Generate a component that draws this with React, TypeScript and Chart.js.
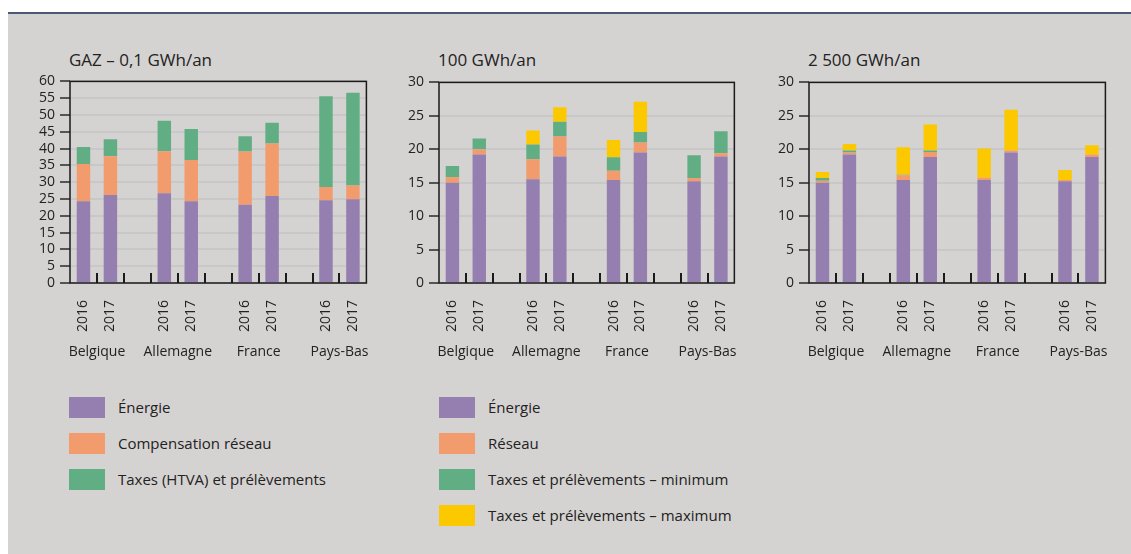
import React, { useEffect, useRef } from "react";
import { Chart, registerables } from "chart.js";
Chart.register(...registerables);

// ---------- DATA ----------
const slotLabels = ["2016", "2017", "", "2016", "2017", "", "2016", "2017", "", "2016", "2017"];
const countries = ["Belgique", "Allemagne", "France", "Pays-Bas"];
const countryPositions = [0.5, 3.5, 6.5, 9.5];

// Chart 1: GAZ – 0,1 GWh/an
const gazEnergie = [24.3, 26.2, null, 26.7, 24.3, null, 23.3, 25.9, null, 24.6, 24.9];
const gazCompensation = [11.1, 11.5, null, 12.5, 12.3, null, 15.8, 15.6, null, 4.0, 4.1];
const gazTaxes = [5.1, 5.1, null, 9.1, 9.2, null, 4.6, 6.2, null, 27.0, 27.6];

// Chart 2: 100 GWh/an
const g100Energie = [15.0, 19.2, null, 15.5, 18.9, null, 15.4, 19.5, null, 15.2, 18.9];
const g100Reseau = [0.8, 0.8, null, 3.0, 3.0, null, 1.4, 1.5, null, 0.5, 0.5];
const g100TaxMin = [1.7, 1.6, null, 2.2, 2.2, null, 2.0, 1.6, null, 3.4, 3.3];
const g100TaxMax = [0, 0, null, 2.1, 2.2, null, 2.6, 4.5, null, 0, 0];

// Chart 3: 2 500 GWh/an
const g2500Energie = [15.0, 19.2, null, 15.4, 18.85, null, 15.4, 19.5, null, 15.2, 18.85];
const g2500Reseau = [0.3, 0.3, null, 0.7, 0.75, null, 0.35, 0.3, null, 0.2, 0.35];
const g2500TaxMin = [0.4, 0.3, null, 0.1, 0.2, null, 0, 0, null, 0, 0];
const g2500TaxMax = [0.9, 1.0, null, 4.1, 3.9, null, 4.35, 6.1, null, 1.5, 1.4];

const titles = ["GAZ – 0,1 GWh/an", "100 GWh/an", "2 500 GWh/an"];
const yMaxes = [60, 30, 30];

const legend1 = ["Énergie", "Compensation réseau", "Taxes (HTVA) et prélèvements"];
const legend2 = ["Énergie", "Réseau", "Taxes et prélèvements – minimum", "Taxes et prélèvements – maximum"];

// ---------- STYLE ----------
const PURPLE = "#957fb0";
const ORANGE = "#f29c6e";
const GREEN = "#62ae84";
const YELLOW = "#fcc800";
const COLORS = [PURPLE, ORANGE, GREEN, YELLOW];
const BG = "#d5d3d1";
const TEXT = "#222222";
const FONT = "'Open Sans', 'Noto Sans', sans-serif";

const framePlugin = {
  id: "frame",
  afterDatasetsDraw(chart: any) {
    const { ctx, chartArea: a, scales } = chart;
    const x = scales.x;
    ctx.save();
    ctx.strokeStyle = "#1a1a1a";
    ctx.lineWidth = 1.5;
    ctx.strokeRect(a.left, a.top, a.right - a.left, a.bottom - a.top);
    ctx.lineWidth = 2;
    ctx.beginPath();
    for (let i = 1; i < slotLabels.length; i++) {
      const px = Math.round(x.getPixelForValue(i - 0.5));
      ctx.moveTo(px, a.bottom);
      ctx.lineTo(px, a.bottom - 10);
    }
    ctx.stroke();
    // country group labels, placed through the x scale
    ctx.fillStyle = TEXT;
    ctx.font = `14px ${FONT}`;
    ctx.textAlign = "center";
    ctx.textBaseline = "middle";
    countries.forEach((c, i) => {
      ctx.fillText(c, x.getPixelForValue(countryPositions[i]), a.bottom + 69);
    });
    ctx.restore();
  },
};

type PanelProps = {
  left: number;
  top: number;
  width: number;
  height: number;
  areaHeight: number;
  yMax: number;
  series: (number | null)[][];
  labels: string[];
};

function ChartPanel({ left, top, width, height, areaHeight, yMax, series, labels }: PanelProps) {
  const ref = useRef<HTMLCanvasElement | null>(null);
  useEffect(() => {
    if (!ref.current) return;
    const tickFont = { family: FONT, size: 14 };
    const padTop = 10;
    const xH = height - padTop - areaHeight;
    const chart = new Chart(ref.current, {
      type: "bar",
      data: {
        labels: slotLabels,
        datasets: series.map((d, i) => ({
          label: labels[i],
          data: d,
          backgroundColor: COLORS[i],
          borderWidth: 0,
          barPercentage: 0.5,
          categoryPercentage: 1,
        })),
      },
      options: {
        responsive: false,
        animation: false,
        devicePixelRatio: 1,
        layout: { padding: { top: padTop, right: 6, left: 0, bottom: 0 } },
        plugins: { legend: { display: false }, tooltip: { enabled: false }, title: { display: false } },
        scales: {
          x: {
            type: "category",
            position: "bottom",
            stacked: true,
            offset: true,
            grid: { display: false, drawTicks: false },
            border: { display: false },
            ticks: {
              autoSkip: false,
              minRotation: 90,
              maxRotation: 90,
              padding: 17,
              font: tickFont,
              color: TEXT,
            },
            afterFit: (s: any) => {
              s.height = xH;
            },
          },
          y: {
            type: "linear",
            stacked: true,
            min: 0,
            max: yMax,
            border: { display: false },
            grid: { color: "#c8c8c8", lineWidth: 2, tickColor: "#2a2a2a", tickLength: 10, tickWidth: 1.5 },
            ticks: { stepSize: 5, autoSkip: false, padding: 5, font: tickFont, color: TEXT },
            afterFit: (s: any) => {
              s.width = 50;
            },
          },
        },
      },
      plugins: [framePlugin],
    } as any);
    return () => chart.destroy();
  }, []);
  return (
    <canvas
      ref={ref}
      width={width}
      height={height}
      style={{ position: "absolute", left, top, width, height }}
    />
  );
}

function Legend({ left, top, items }: { left: number; top: number; items: string[] }) {
  return (
    <div style={{ position: "absolute", left, top }}>
      {items.map((t, i) => (
        <div key={t + i} style={{ position: "absolute", left: 0, top: i * 36, width: 400, height: 21 }}>
          <div style={{ position: "absolute", left: 0, top: 0, width: 36, height: 21, background: COLORS[i] }} />
          <div
            style={{
              position: "absolute",
              left: 49,
              top: -1,
              lineHeight: "22px",
              fontSize: 15,
              fontFamily: FONT,
              color: TEXT,
              whiteSpace: "nowrap",
            }}
          >
            {t}
          </div>
        </div>
      ))}
    </div>
  );
}

export default function App() {
  const panels = [
    { L: 70, R: 381, T: 78, series: [gazEnergie, gazCompensation, gazTaxes], labels: legend1 },
    { L: 439, R: 749, T: 79, series: [g100Energie, g100Reseau, g100TaxMin, g100TaxMax], labels: legend2 },
    { L: 809, R: 1120, T: 79, series: [g2500Energie, g2500Reseau, g2500TaxMin, g2500TaxMax], labels: legend2 },
  ];
  const bottom = 283;
  return (
    <div style={{ position: "absolute", left: 0, top: 0, width: 1131, height: 554, background: "#fff", overflow: "hidden" }}>
      <div
        style={{
          position: "absolute",
          left: 8,
          top: 12,
          width: 1123,
          height: 542,
          background: BG,
          borderTop: "2px solid #4b5878",
          boxSizing: "border-box",
        }}
      />
      {panels.map((p, i) => {
        const canvasTop = p.T - 10;
        const canvasBottom = 372;
        return (
          <React.Fragment key={i}>
            <div
              style={{
                position: "absolute",
                left: p.L - 1,
                top: 48,
                fontSize: 17,
                lineHeight: "24px",
                fontFamily: FONT,
                color: TEXT,
                whiteSpace: "nowrap",
              }}
            >
              {titles[i]}
            </div>
            <ChartPanel
              left={p.L - 50}
              top={canvasTop}
              width={p.R - p.L + 56}
              height={canvasBottom - canvasTop}
              areaHeight={bottom - p.T}
              yMax={yMaxes[i]}
              series={p.series}
              labels={p.labels}
            />
          </React.Fragment>
        );
      })}
      <Legend left={69} top={397} items={legend1} />
      <Legend left={439} top={397} items={legend2} />
    </div>
  );
}
